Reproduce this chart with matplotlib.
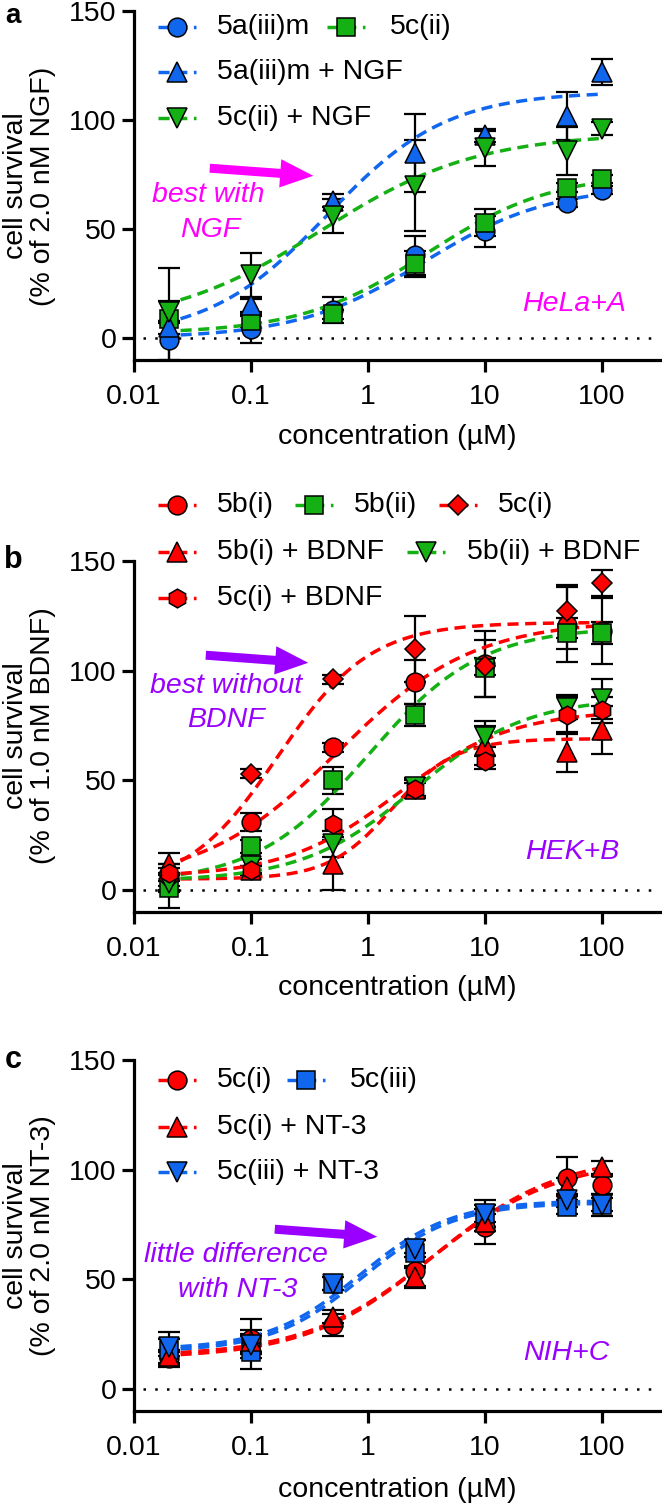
import numpy as np
import matplotlib
matplotlib.use("Agg")
import matplotlib.pyplot as plt
from matplotlib.lines import Line2D
from matplotlib.transforms import Affine2D
from matplotlib.ticker import NullLocator

plt.rcParams['font.family'] = ['Liberation Sans', 'DejaVu Sans']

# ---------------- data ----------------
conc = [0.02, 0.1, 0.5, 2.5, 10, 50, 100]

# panel a (HeLa + A), % of 2.0 nM NGF
a_names = ["5a(iii)m", "5c(ii)", "5a(iii)m + NGF", "5c(ii) + NGF"]
a_5aiiim = [-1, 4, 13, 38, 49, 62, 68]
a_5aiiim_err = [9, 6, 6, 9, 7, 2, 2]
a_5cii = [9, 8, 11, 34, 53, 69, 73]
a_5cii_err = [23, 3, 2, 6, 6, 2, 2]
a_5aiiim_ngf = [5, 15, 63, 85, 93, 102, 122]
a_5aiiim_ngf_err = [3, 3, 3, 18, 3, 11, 6]
a_5cii_ngf = [12, 29, 56, 70, 87, 86, 96]
a_5cii_ngf_err = [5, 10, 8, 21, 8, 11, 3]
# fitted 4PL parameters (bottom, top, EC50, hill)
a_fits = [(0, 70, 3.0, 0.8), (2, 76, 3.2, 0.8), (0, 113, 0.45, 0.85), (5, 94, 0.4, 0.65)]

# panel b (HEK + B), % of 1.0 nM BDNF
b_names = ["5b(i)", "5b(ii)", "5c(i)", "5b(i) + BDNF", "5b(ii) + BDNF", "5c(i) + BDNF"]
b_5bi = [6, 31, 65, 95, 103, 121, 118]
b_5bi_err = [6, 4, 2, 10, 15, 17, 15]
b_5bii = [1, 20, 50, 80, 101, 117, 117]
b_5bii_err = [9, 3, 6, 5, 13, 7, 5]
b_5ci = [5, 53, 96, 110, 102, 127, 140]
b_5ci_err = [3, 2, 2, 15, 4, 12, 6]
b_5bi_bdnf = [12, 9, 12, 46, 66, 63, 73]
b_5bi_bdnf_err = [5, 2, 12, 4, 11, 9, 11]
b_5bii_bdnf = [3, 11, 21, 47, 70, 83, 87]
b_5bii_bdnf_err = [4, 3, 6, 4, 5, 5, 9]
b_5ci_bdnf = [8, 9, 30, 46, 59, 80, 82]
b_5ci_bdnf_err = [4, 2, 7, 3, 2, 9, 6]
b_fits = [(3, 123, 0.55, 0.75), (3, 120, 1.0, 0.9), (0, 122, 0.17, 1.1),
          (5, 69, 1.6, 1.6), (4, 88, 2.5, 0.9), (6, 82, 1.8, 0.9)]

# panel c (NIH + C), % of 2.0 nM NT-3
c_names = ["5c(i)", "5c(iii)", "5c(i) + NT-3", "5c(iii) + NT-3"]
c_5ci = [14, 23, 29, 54, 74, 96, 93]
c_5ci_err = [3, 9, 5, 8, 8, 10, 4]
c_5ciii = [18, 17, 48, 62, 80, 83, 84]
c_5ciii_err = [8, 8, 3, 6, 6, 3, 3]
c_5ci_nt3 = [15, 22, 33, 51, 76, 92, 101]
c_5ci_nt3_err = [3, 5, 3, 4, 4, 4, 3]
c_5ciii_nt3 = [19, 20, 48, 64, 80, 86, 84]
c_5ciii_nt3_err = [4, 4, 3, 4, 4, 3, 5]
c_fits = [(15, 105, 3.5, 0.8), (17, 85, 0.9, 1.1), (14, 107, 3.6, 0.8), (18, 86, 0.85, 1.1)]

xticks = [0.01, 0.1, 1, 10, 100]
xticklabels = ["0.01", "0.1", "1", "10", "100"]
yticks = [0, 50, 100, 150]

# ---------------- styles ----------------
BLUE = "#1166ee"
GREEN = "#14b014"
RED = "#ff0000"
MAGENTA = "#ff00ff"
PURPLE = "#9900ff"

W, H = 662, 1504
fig = plt.figure(figsize=(W / 100, H / 100), dpi=100)
pix = Affine2D().scale(1 / W, -1 / H).translate(0, 1) + fig.transFigure

FS = 20.5
MS = {"o": 13.5, "s": 12.5, "^": 14, "v": 14, "D": 10.5, "h": 13.5}


def logistic(x, b, t, ec, h):
    return b + (t - b) / (1 + (ec / x) ** h)


def make_axes(top, bottom, left=134, right=659.5):
    ax = fig.add_axes([left / W, 1 - bottom / H, (right - left) / W, (bottom - top) / H])
    ax.set_xscale("log")
    ax.set_xlim(0.01, 310)
    ax.set_ylim(-10, 150)
    ax.set_xticks(xticks)
    ax.set_xticklabels(xticklabels)
    ax.xaxis.set_minor_locator(NullLocator())
    ax.set_yticks(yticks)
    for s in ("top", "right"):
        ax.spines[s].set_visible(False)
    for s in ("left", "bottom"):
        ax.spines[s].set_linewidth(2.3)
    ax.tick_params(axis="both", length=8.5, width=2.3, labelsize=FS)
    ax.tick_params(axis="x", pad=8.5)
    ax.tick_params(axis="y", pad=4)
    ax.axhline(0, xmin=0.017, xmax=1, color="black", lw=1.8,
               ls=(0, (1, 3.7)), zorder=1)
    return ax


def draw_panel(ax, series, fits, styles):
    xx = np.logspace(np.log10(0.025), np.log10(100), 200)
    for (y, e), (c, m) in zip(series, styles):
        ax.errorbar(conc, y, yerr=e, fmt="none", ecolor="black", elinewidth=1.6,
                    capsize=8, capthick=1.6, zorder=3)
    for p, (c, m) in zip(fits, styles):
        ax.plot(xx, logistic(xx, *p), color=c, lw=2.5, ls=(0, (3.2, 1.9)), zorder=3.5)
    for (y, e), (c, m) in zip(series, styles):
        ax.plot(conc, y, ls="none", marker=m, ms=MS[m], mfc=c, mec="black",
                mew=1.1, zorder=4)


def legend_entry(x, y, name, c, m, tx=None):
    fig.add_artist(Line2D([x - 19, x + 19], [y, y], transform=pix, color=c, lw=2.5,
                          ls=(0, (3.2, 1.9))))
    fig.add_artist(Line2D([x], [y], transform=pix, ls="none", marker=m, ms=MS[m],
                          mfc=c, mec="black", mew=1.1))
    fig.text(x + 40 if tx is None else tx, y, name, transform=pix, fontsize=FS,
             ha="left", va="center")


def ylabel(y, line2):
    fig.text(30, y, "cell survival\n" + line2, transform=pix, fontsize=FS,
             rotation=90, ha="center", va="center", multialignment="center",
             linespacing=1.05)


def arrow(x0, y0, x1, y1, c):
    fig.add_artist(matplotlib.patches.FancyArrowPatch(
        (x0, y0), (x1, y1), transform=pix,
        arrowstyle="simple,head_width=1.2,head_length=1.4,tail_width=0.38",
        mutation_scale=17, color=c, lw=0))


def xlabel(y):
    fig.text(397, y, "concentration (µM)", transform=pix, fontsize=FS, ha="center", va="center")


def letter(y, s, size=22):
    fig.text(13, y, s, transform=pix, fontsize=size, fontweight="bold",
             ha="center", va="baseline")


# ---------------- panel a ----------------
axa = make_axes(11, 360)
a_styles = [(BLUE, "o"), (GREEN, "s"), (BLUE, "^"), (GREEN, "v")]
draw_panel(axa, [(a_5aiiim, a_5aiiim_err), (a_5cii, a_5cii_err),
                 (a_5aiiim_ngf, a_5aiiim_ngf_err), (a_5cii_ngf, a_5cii_ngf_err)],
           a_fits, a_styles)
legend_entry(177, 27, a_names[0], *a_styles[0])
legend_entry(346, 27, a_names[1], *a_styles[1], tx=390)
legend_entry(177, 72, a_names[2], *a_styles[2])
legend_entry(177, 118, a_names[3], *a_styles[3])
ylabel(186, "(% of 2.0 nM NGF)")
xlabel(437)
letter(23, "a", size=20)
arrow(207, 168, 316, 176, MAGENTA)
fig.text(208, 195, "best with", transform=pix, fontsize=FS, style="italic", color=MAGENTA,
         ha="center", va="center")
fig.text(210, 230, "NGF", transform=pix, fontsize=FS, style="italic", color=MAGENTA,
         ha="center", va="center")
fig.text(574, 304, "HeLa+A", transform=pix, fontsize=FS, style="italic", color=MAGENTA,
         ha="center", va="center")

# ---------------- panel b ----------------
axb = make_axes(561, 912)
b_styles = [(RED, "o"), (GREEN, "s"), (RED, "D"), (RED, "^"), (GREEN, "v"), (RED, "h")]
draw_panel(axb, [(b_5bi, b_5bi_err), (b_5bii, b_5bii_err), (b_5ci, b_5ci_err),
                 (b_5bi_bdnf, b_5bi_bdnf_err), (b_5bii_bdnf, b_5bii_bdnf_err),
                 (b_5ci_bdnf, b_5ci_bdnf_err)], b_fits, b_styles)
legend_entry(177, 505, b_names[0], *b_styles[0])
legend_entry(314, 505, b_names[1], *b_styles[1], tx=354)
legend_entry(458, 505, b_names[2], *b_styles[2], tx=498)
legend_entry(177, 552, b_names[3], *b_styles[3])
legend_entry(426, 552, b_names[4], *b_styles[4], tx=467)
legend_entry(177, 598, b_names[5], *b_styles[5])
ylabel(736, "(% of 1.0 nM BDNF)")
xlabel(988)
letter(568, "b")
arrow(203, 655, 311, 663, PURPLE)
fig.text(226, 686, "best without", transform=pix, fontsize=FS, style="italic", color=PURPLE,
         ha="center", va="center")
fig.text(226, 720, "BDNF", transform=pix, fontsize=FS, style="italic", color=PURPLE,
         ha="center", va="center")
fig.text(572, 852, "HEK+B", transform=pix, fontsize=FS, style="italic", color=PURPLE,
         ha="center", va="center")

# ---------------- panel c ----------------
axc = make_axes(1060, 1411)
c_styles = [(RED, "o"), (BLUE, "s"), (RED, "^"), (BLUE, "v")]
draw_panel(axc, [(c_5ci, c_5ci_err), (c_5ciii, c_5ciii_err),
                 (c_5ci_nt3, c_5ci_nt3_err), (c_5ciii_nt3, c_5ciii_nt3_err)],
           c_fits, c_styles)
legend_entry(177, 1080, c_names[0], *c_styles[0])
legend_entry(306, 1080, c_names[1], *c_styles[1], tx=350)
legend_entry(177, 1127, c_names[2], *c_styles[2])
legend_entry(177, 1172, c_names[3], *c_styles[3])
ylabel(1236, "(% of 2.0 nM NT-3)")
xlabel(1490)
letter(1068, "c")
arrow(272, 1229, 380, 1237, PURPLE)
fig.text(236, 1255, "little difference", transform=pix, fontsize=FS, style="italic",
         color=PURPLE, ha="center", va="center")
fig.text(238, 1290, "with NT-3", transform=pix, fontsize=FS, style="italic", color=PURPLE,
         ha="center", va="center")
fig.text(566, 1353, "NIH+C", transform=pix, fontsize=FS, style="italic", color=PURPLE,
         ha="center", va="center")

fig.savefig("out.png", dpi=100)
